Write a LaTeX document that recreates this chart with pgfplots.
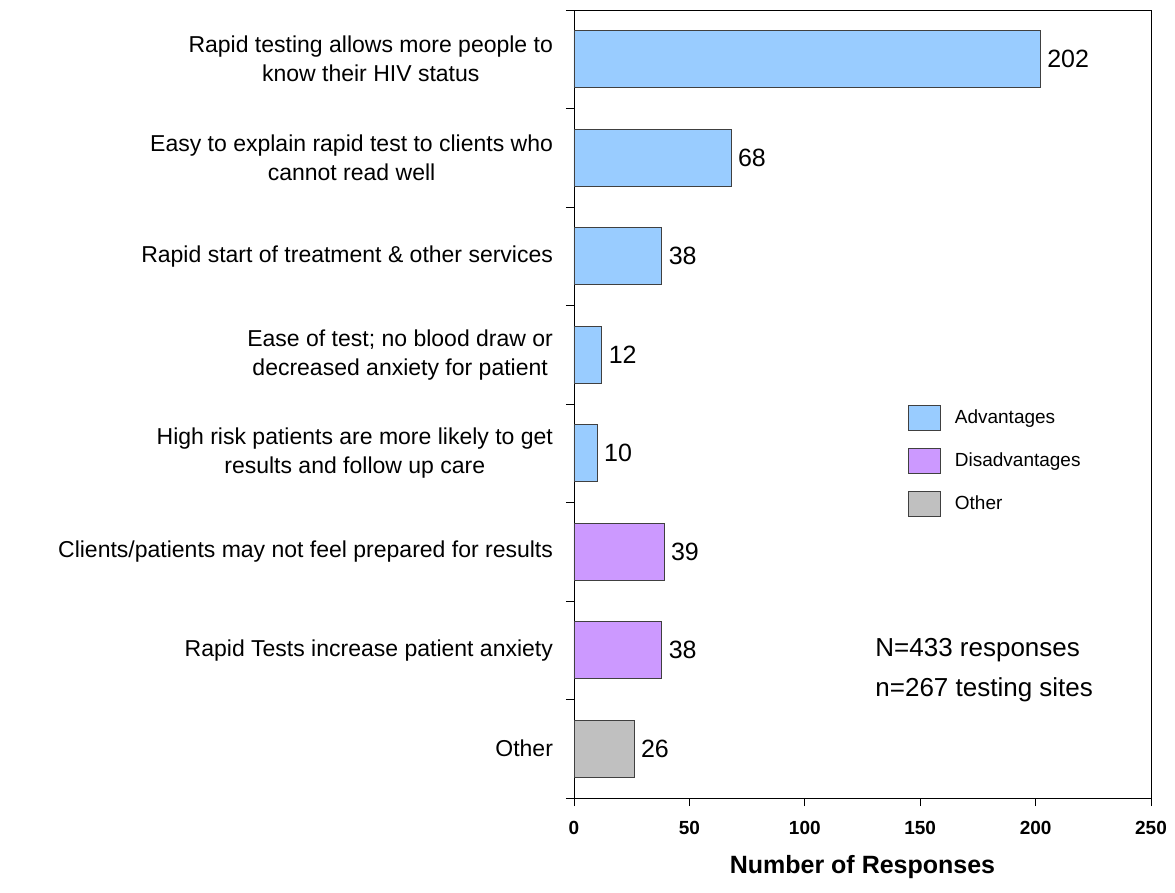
\documentclass[border=0pt]{standalone}
\usepackage{pgfplots}
\pgfplotsset{compat=1.18}
\usepackage{fontspec}
\setmainfont{Liberation Sans}
\definecolor{adv}{HTML}{99CCFF}
\definecolor{dis}{HTML}{CC99FF}
\definecolor{oth}{HTML}{C0C0C0}
\begin{document}
\begin{tikzpicture}
\begin{axis}[
  name=ax,
  scale only axis, width=288.5pt, height=394pt,
  xmin=0, xmax=250, ymin=-0.5, ymax=7.5,
  xtick={0,50,...,250},
  ytick={0,...,7},
  yticklabels={Other,
    Rapid Tests increase patient anxiety,
    Clients/patients may not feel prepared for results,
    {High risk patients are more likely to get\\results and follow up care},
    {Ease of test; no blood draw or\\decreased anxiety for patient},
    Rapid start of treatment \& other services,
    {Easy to explain rapid test to clients who\\cannot read well},
    {Rapid testing allows more people to\\know their HIV status}},
  yticklabel style={align=center, font=\fontsize{11.5}{14.5}\selectfont, xshift=-3pt},
  major y tick style={draw=none},
  minor ytick={-0.5,0.5,...,7.5},
  minor tick length=4pt,
  major tick length=4pt,
  tick align=outside,
  xtick pos=bottom, ytick pos=left,
  tick style={black, thin},
  axis line style={black, thin},
  xbar, bar shift=0pt, bar width=28.5pt,
  nodes near coords,
  nodes near coords style={font=\fontsize{12.5}{14}\selectfont, anchor=west, black},
  /pgf/number format/assume math mode=true,
  xticklabel style={font=\bfseries\fontsize{9.5}{12}\selectfont, yshift=-4pt},
  xlabel={Number of Responses},
  xlabel style={font=\bfseries\fontsize{12.5}{15}\selectfont, yshift=-3.5pt},
  legend style={at={(0.579,0.4987)}, anchor=north west, draw=none, fill=none,
    font=\fontsize{9.5}{11}\selectfont, row sep=8.5pt, inner sep=0pt},
  legend cell align=left,
  legend image code/.code={\draw[#1] (0pt,-6.25pt) rectangle (16pt,6.25pt); \path[draw=none, fill=none] (0pt,0pt) -- (21pt,0pt);},
  clip=false,
]
\addplot[fill=adv, draw=black!75] coordinates {(202,7) (68,6) (38,5) (12,4) (10,3)};
\addlegendentry{Advantages}
\addplot[fill=dis, draw=black!75] coordinates {(39,2) (38,1)};
\addlegendentry{Disadvantages}
\addplot[fill=oth, draw=black!75] coordinates {(26,0)};
\addlegendentry{Other}
\node[anchor=north west, align=left, inner sep=0pt, font=\fontsize{13}{20}\selectfont]
  at (rel axis cs:0.5217,0.203) {N=433 responses\\n=267 testing sites};
\end{axis}
\pgfresetboundingbox
\path ([xshift=-287pt,yshift=-47pt]ax.south west) rectangle ([xshift=12pt,yshift=5pt]ax.north east);
\end{tikzpicture}
\end{document}
